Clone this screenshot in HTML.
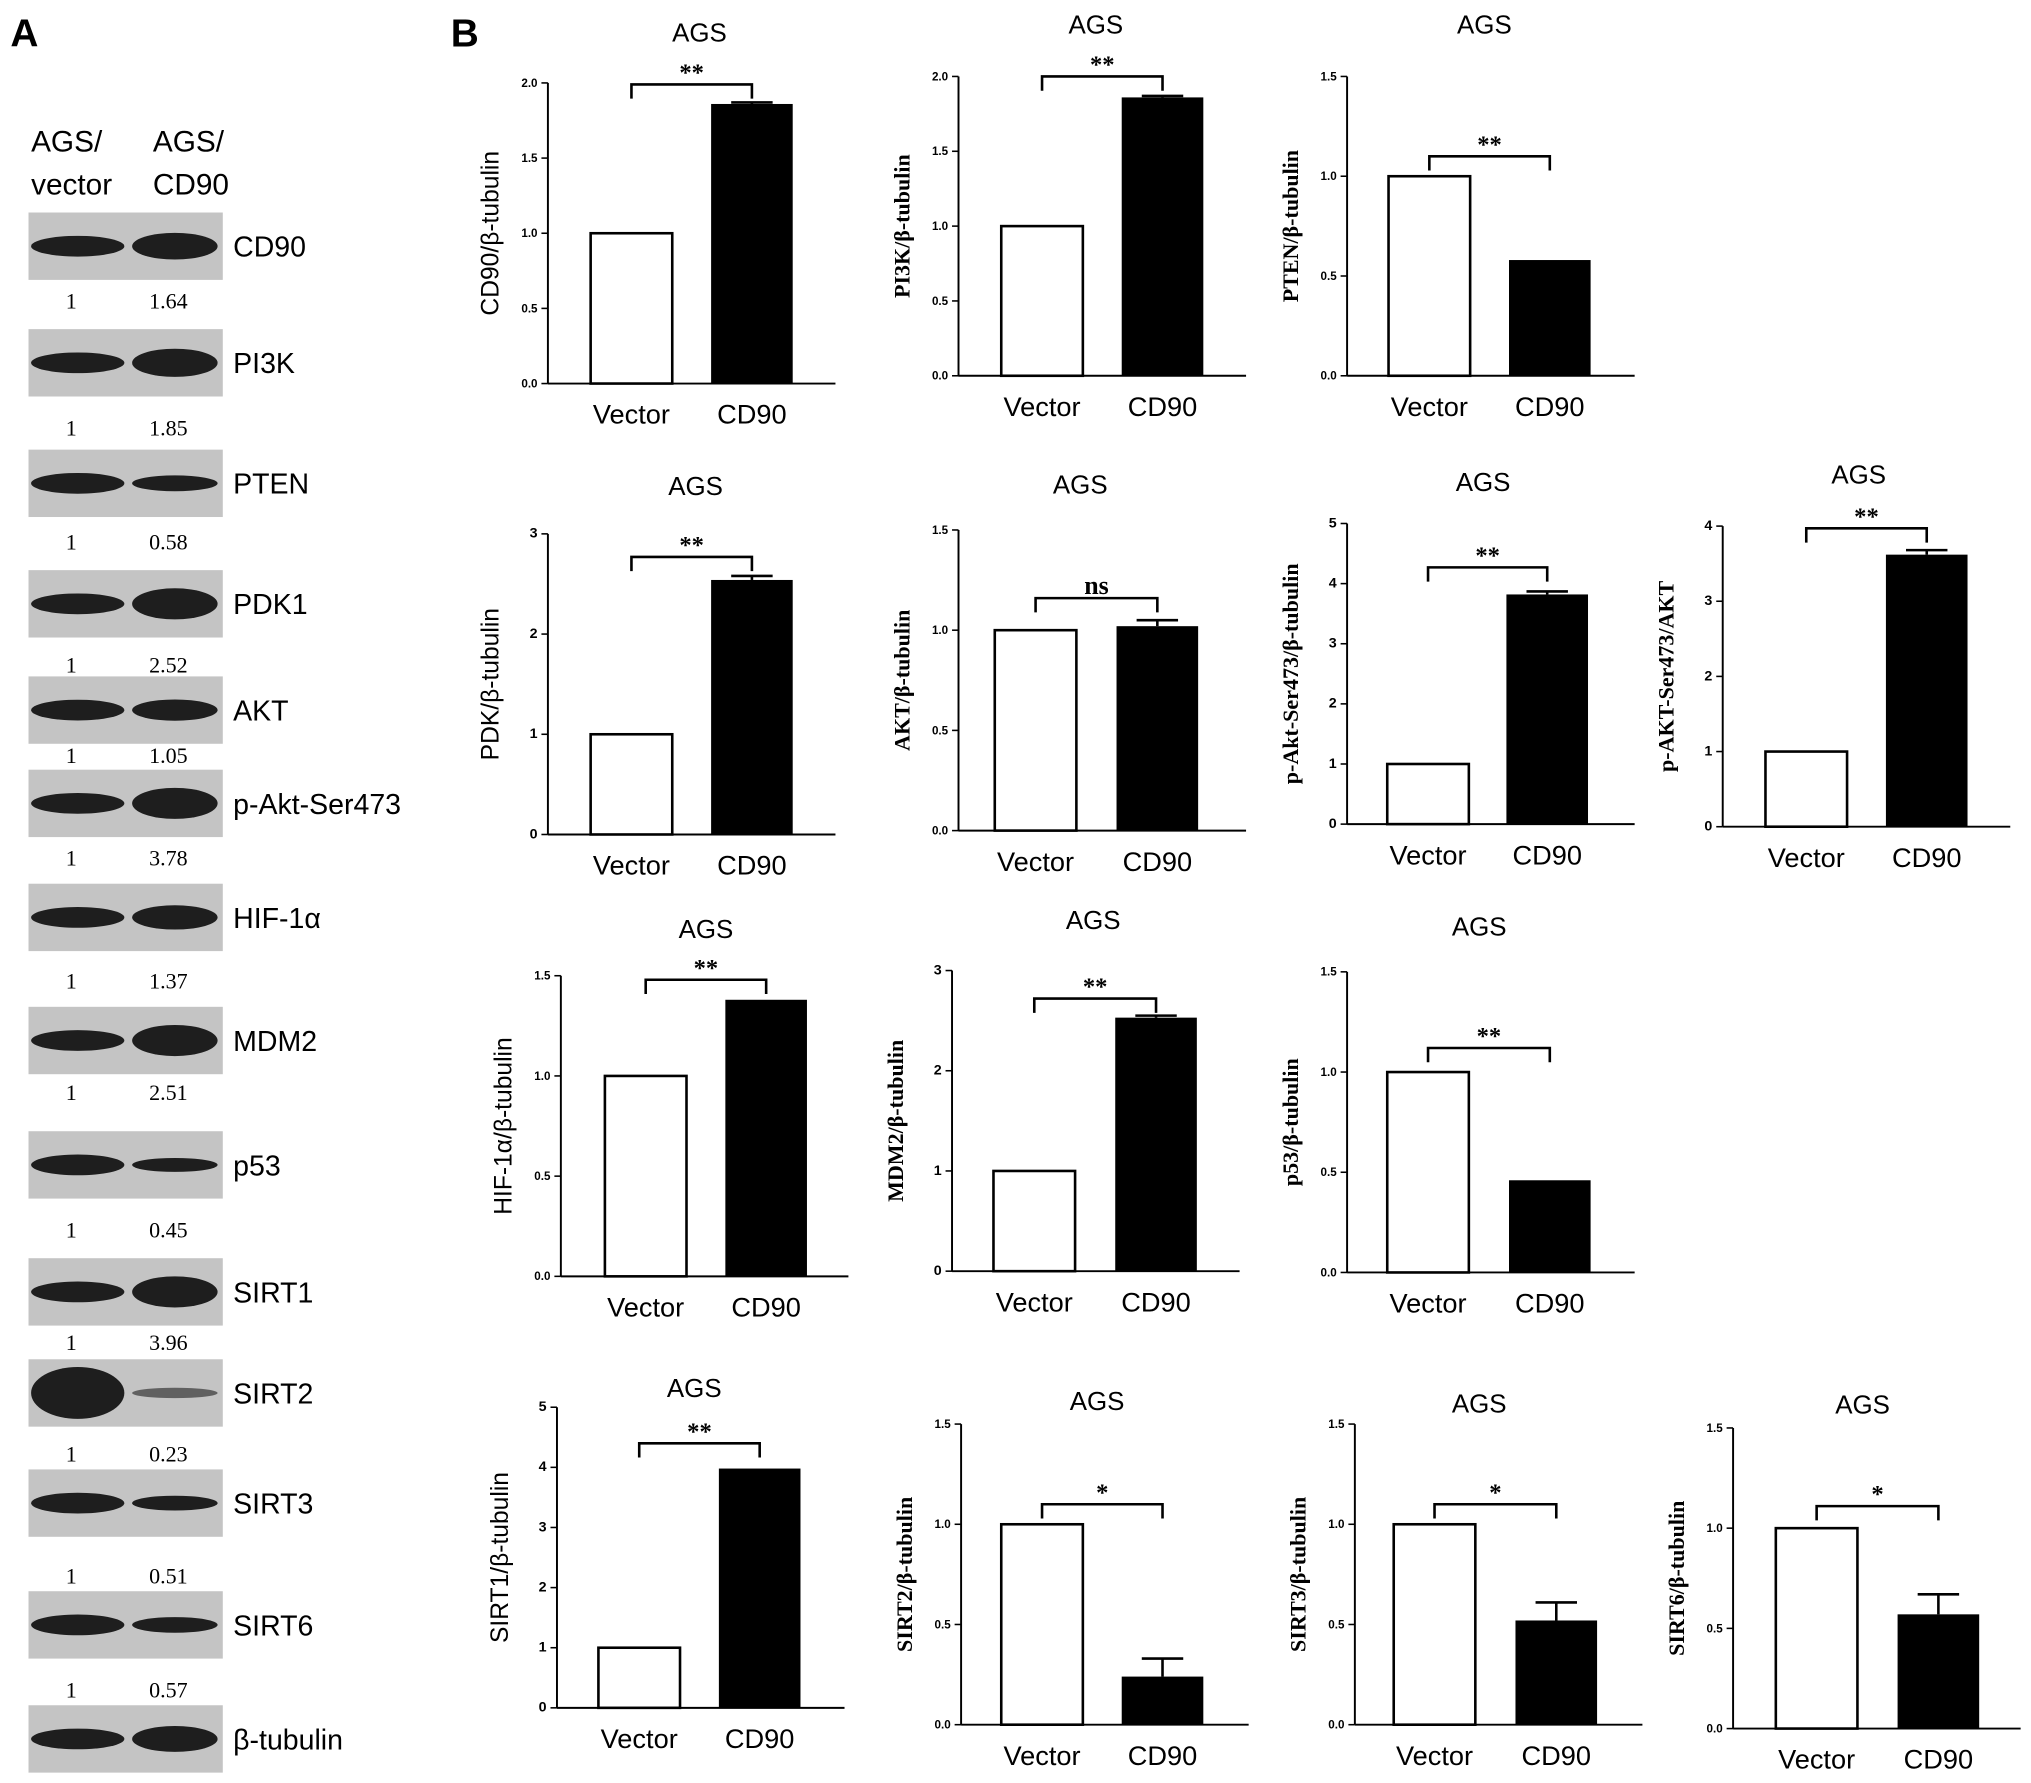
<!DOCTYPE html>
<html><head><meta charset="utf-8"><style>
html,body{margin:0;padding:0;background:#fff;}
svg{display:block;}
.s{font-family:"Liberation Sans",sans-serif;}
.r{font-family:"Liberation Serif",serif;}
</style></head><body>
<svg id="fig" width="2031" height="1783" viewBox="0 0 1568 1376" preserveAspectRatio="none" xmlns="http://www.w3.org/2000/svg">
<text class="s" x="8" y="36" font-size="30" font-weight="bold">A</text>
<text class="s" x="348" y="36" font-size="30" font-weight="bold">B</text>
<text class="s" x="24" y="117" font-size="23">AGS/</text>
<text class="s" x="24" y="150" font-size="23">vector</text>
<text class="s" x="118" y="117" font-size="23">AGS/</text>
<text class="s" x="118" y="150" font-size="23">CD90</text>
<g id="blots"></g>
<g id="charts"></g>
</svg>
<script>
// ---- Blot data ----
const blotNames = ["CD90","PI3K","PTEN","PDK1","AKT","p-Akt-Ser473","HIF-1α","MDM2","p53","SIRT1","SIRT2","SIRT3","SIRT6","β-tubulin"];
const blotRatios = ["1.64","1.85","0.58","2.52","1.05","3.78","1.37","2.51","0.45","3.96","0.23","0.51","0.57",""];
// ---- Chart data ----
const chartYLabels = ["CD90/β-tubulin","PI3K/β-tubulin","PTEN/β-tubulin","PDK/β-tubulin","AKT/β-tubulin","p-Akt-Ser473/β-tubulin","p-AKT-Ser473/AKT","HIF-1α/β-tubulin","MDM2/β-tubulin","p53/β-tubulin","SIRT1/β-tubulin","SIRT2/β-tubulin","SIRT3/β-tubulin","SIRT6/β-tubulin"];
const categories = ["Vector","CD90"];
const vectorValues = [1,1,1,1,1,1,1,1,1,1,1,1,1,1];
const cd90Values = [1.86,1.86,0.58,2.54,1.02,3.82,3.62,1.38,2.53,0.46,3.98,0.24,0.52,0.57];
const cd90Errors = [0.01,0.01,0,0.04,0.03,0.05,0.06,0,0.02,0,0,0.09,0.09,0.1];
const yMaxes = [2,2,1.5,3,1.5,5,4,1.5,3,1.5,5,1.5,1.5,1.5];
const tickSteps = [0.5,0.5,0.5,1,0.5,1,1,0.5,1,0.5,1,0.5,0.5,0.5];
const sigLabels = ["**","**","**","**","ns","**","**","**","**","**","**","*","*","*"];
const sigValues = [1.99,2.0,1.10,2.77,1.16,4.27,3.97,1.48,2.72,1.12,4.4,1.10,1.10,1.11];
// layout: axis x, bottom y, top y, bar1 x, bar2 x, title x, title y, serif label?
const layout = [
 [423,296,64,456,549,540,24,0],[740,290,59,773,866,846,18,1],[1040,290,59,1072,1165,1146,18,1],
 [423,644,412,456,549,537,374,0],[740,641,409,768,862,834,373,1],[1040,636,404,1071,1163,1145,371,1],[1330,638,406,1363,1456,1435,365,1],
 [433,985,753,467,560,545,716,0],[735,981,749,767,861,844,709,1],[1040,982,750,1071,1165,1142,714,1],
 [430,1318,1086,462,555,536,1070,0],[742,1331,1099,773,866,847,1080,1],[1046,1331,1099,1076,1170,1142,1082,1],[1338,1334,1102,1371,1465,1438,1083,1]
];
const NS="http://www.w3.org/2000/svg";
function mk(parent,tag,attrs,text){const e=document.createElementNS(NS,tag);for(const k in attrs)e.setAttribute(k,attrs[k]);if(text!==undefined)e.textContent=text;parent.appendChild(e);return e;}
const blots=document.getElementById('blots');
const blotY=[190,280,373,466,548,620,708,803,899,997,1075,1160,1254,1342];
const numY=[232,330,418,513,583,662,757,843,949,1036,1122,1216,1304,0];
blotNames.forEach((n,i)=>{
 const y=blotY[i];
 const r1=mk(blots,'rect',{x:22,y:y-26,width:150,height:52,fill:'#c4c4c4'});
 
 const ratio=parseFloat(blotRatios[i])||1;
 const h1=i===10?20:8, h2=Math.max(4,Math.min(12,8*Math.sqrt(ratio)));
 const b1=mk(blots,'ellipse',{cx:60,cy:y,rx:36,ry:h1,fill:'#1e1e1e'});
 
 const b2=mk(blots,'ellipse',{cx:135,cy:y,rx:33,ry:i===13?10:h2,fill:'#1e1e1e',opacity:i===10?0.6:1});
 
 const t=mk(blots,'text',{x:180,y:y+8,'font-size':22,class:'s'},n);
 
 if(blotRatios[i]){
  const a=mk(blots,'text',{x:55,y:numY[i]+6,'font-size':17,class:'r','text-anchor':'middle'},'1');
  
  const b=mk(blots,'text',{x:130,y:numY[i]+6,'font-size':17,class:'r','text-anchor':'middle'},blotRatios[i]);
  
 }
});
const charts=document.getElementById('charts');
chartYLabels.forEach((lab,i)=>{
 const [ax,by,ty,b1,b2,tx,tyy,serif]=layout[i];
 const g=mk(charts,'g',{});
 
 const ys=v=>by-(v/yMaxes[i])*(by-ty);
 const bw=63;
 const title=mk(g,'text',{x:tx,y:tyy+8,'font-size':20,class:'s','text-anchor':'middle'},'AGS');
 
 const yl=mk(g,'text',{x:0,y:0,'font-size':serif?17:19,class:serif?'r':'s','font-weight':serif?'bold':'normal','text-anchor':'middle',transform:`translate(${ax-38},${(by+ty)/2}) rotate(-90)`},lab);
 
 const yaxis=mk(g,'line',{x1:ax,y1:by,x2:ax,y2:ty,stroke:'#000','stroke-width':1.5});
 
 const xaxis=mk(g,'line',{x1:ax,y1:by,x2:ax+222,y2:by,stroke:'#000','stroke-width':1.5});
 
 const dec=tickSteps[i]<1?1:0;
 for(let v=0;v<=yMaxes[i]+1e-9;v+=tickSteps[i]){
  const y=ys(v);
  const tk=mk(g,'line',{x1:ax-5,y1:y,x2:ax,y2:y,stroke:'#000','stroke-width':1.2});
  
  const tl=mk(g,'text',{x:ax-8,y:y+3,'font-size':dec?9:11,'font-weight':'bold',class:'s','text-anchor':'end'},v.toFixed(dec));
  
 }
 const r1=mk(g,'rect',{x:b1,y:ys(vectorValues[i]),width:bw,height:by-ys(vectorValues[i]),fill:'#fff',stroke:'#000','stroke-width':2});
 
 const r2=mk(g,'rect',{x:b2,y:ys(cd90Values[i]),width:bw,height:by-ys(cd90Values[i]),fill:'#000'});
 
 if(cd90Errors[i]>0){
  const ey=ys(cd90Values[i]+cd90Errors[i]),cx=b2+bw/2;
  const e1=mk(g,'line',{x1:cx,y1:ys(cd90Values[i]),x2:cx,y2:ey,stroke:'#000','stroke-width':2});
  
  const e2=mk(g,'line',{x1:cx-16,y1:ey,x2:cx+16,y2:ey,stroke:'#000','stroke-width':2});
  
 }
 const sy=ys(sigValues[i]),c1=b1+bw/2,c2=b2+bw/2;
 const br=mk(g,'path',{d:`M${c1},${sy+11}V${sy}H${c2}V${sy+11}`,fill:'none',stroke:'#000','stroke-width':2});
 
 const st=mk(g,'text',{x:(c1+c2)/2,y:sy-3,'font-size':sigLabels[i]==='ns'?20:19,'font-weight':'bold',class:'r','text-anchor':'middle'},sigLabels[i]);
 
 [b1,b2].forEach((bx,k)=>{
  const xl=mk(g,'text',{x:bx+bw/2,y:by+31,'font-size':21,class:'s','text-anchor':'middle'},categories[k]);
  
 });
});
</script>
</body></html>
